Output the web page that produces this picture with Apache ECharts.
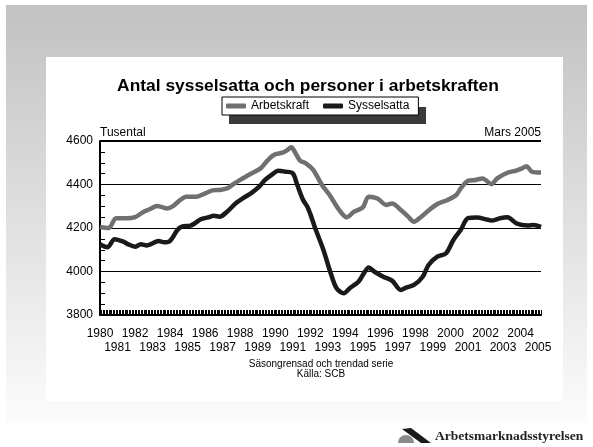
<!DOCTYPE html>
<html lang="sv">
<head>
    <meta charset="UTF-8">
    <title>Antal sysselsatta och personer i arbetskraften</title>
    <style>
        html, body { margin: 0; padding: 0; background: #fff; }
        #main { width: 593px; height: 447px; }
    </style>
    <script src="https://cdn.jsdelivr.net/npm/echarts@6/dist/echarts.min.js"></script>
</head>
<body>
<div id="main"></div>
<script>
    // avlästa punkter (månad, tusental)
    const arbMan = ['1980-01', '1980-07', '1980-12', '1981-07', '1982-01', '1982-07', '1982-11', '1983-04',
        '1983-07', '1983-11', '1984-03', '1984-08', '1984-12', '1985-07', '1986-01', '1986-06', '1986-11',
        '1987-04', '1987-08', '1988-01', '1988-08', '1989-03', '1989-07', '1989-12', '1990-06', '1990-09',
        '1990-12', '1991-03', '1991-06', '1991-10', '1992-03', '1992-09', '1993-03', '1993-08', '1994-02',
        '1994-07', '1995-01', '1995-05', '1995-11', '1996-05', '1996-09', '1997-03', '1997-08', '1997-12',
        '1998-05', '1998-09', '1999-04', '1999-11', '2000-05', '2000-08', '2001-01', '2001-06', '2001-11',
        '2002-05', '2002-09', '2003-04', '2003-10', '2004-02', '2004-05', '2004-09', '2005-03'];
    const arbVal = [4205, 4200, 4245, 4245, 4250, 4275, 4286, 4301,
        4297, 4290, 4301, 4329, 4344, 4344, 4359, 4373, 4375,
        4382, 4400, 4421, 4448, 4474, 4505, 4536, 4546, 4557,
        4571, 4543, 4510, 4497, 4467, 4398, 4344, 4290, 4249,
        4275, 4295, 4344, 4336, 4306, 4313, 4283, 4252, 4229,
        4252, 4275, 4310, 4329, 4352, 4382, 4417, 4421, 4428,
        4402, 4428, 4454, 4464, 4474, 4484, 4458, 4455];

    const sysMan = ['1980-01', '1980-06', '1980-11', '1981-05', '1981-08', '1982-01', '1982-05', '1982-09',
        '1982-12', '1983-05', '1983-09', '1984-01', '1984-06', '1984-09', '1985-03', '1985-06', '1985-10',
        '1986-03', '1986-07', '1986-11', '1987-04', '1987-10', '1988-03', '1988-09', '1989-02', '1989-06',
        '1989-11', '1990-03', '1990-08', '1991-01', '1991-04', '1991-08', '1991-11', '1992-01', '1992-04',
        '1992-10', '1993-03', '1993-07', '1993-12', '1994-04', '1994-10', '1995-02', '1995-05', '1995-09',
        '1996-03', '1996-09', '1997-03', '1997-07', '1997-12', '1998-06', '1998-10', '1999-04', '1999-10',
        '2000-03', '2000-08', '2001-01', '2001-07', '2002-02', '2002-05', '2002-11', '2003-04', '2003-10',
        '2004-02', '2004-06', '2004-10', '2005-03'];
    const sysVal = [4125, 4111, 4148, 4137, 4126, 4114, 4125, 4120,
        4126, 4140, 4134, 4141, 4191, 4206, 4211, 4222, 4240,
        4249, 4256, 4252, 4275, 4314, 4337, 4363, 4390, 4421,
        4447, 4463, 4459, 4452, 4400, 4330, 4298, 4265, 4206,
        4099, 3992, 3923, 3900, 3923, 3953, 3995, 4018, 3999,
        3976, 3958, 3915, 3927, 3938, 3976, 4030, 4068, 4084,
        4145, 4191, 4245, 4248, 4239, 4234, 4245, 4249, 4222,
        4214, 4212, 4214, 4205];

    const yTicks = [3800, 4000, 4200, 4400, 4600];

    // alla månader jan 1980 - mars 2005 som kategorier
    const manader = [];
    for (let y = 1980; y <= 2005; y++) {
        for (let m = 1; m <= 12; m++) {
            if (y === 2005 && m > 3) break;
            manader.push(y + '-' + (m < 10 ? '0' + m : m));
        }
    }

    const chart = echarts.init(document.getElementById('main'));
    const font = 'Liberation Sans, Arial, sans-serif';
    const arLabel = (v) => v.slice(0, 4);

    chart.setOption({
        animation: false,
        textStyle: {fontFamily: font},
        title: {
            text: 'Antal sysselsatta och personer i arbetskraften',
            left: 303, top: 73, textAlign: 'center',
            textStyle: {fontSize: 17.4, fontWeight: 'bold', color: '#000', fontFamily: font}
        },
        legend: {
            left: 222, top: 97,
            padding: [3, 9, 3, 4],
            itemGap: 14,
            itemWidth: 20, itemHeight: 5,
            icon: 'roundRect',
            borderColor: '#000', borderWidth: 1,
            backgroundColor: '#fff',
            textStyle: {fontSize: 12, color: '#000', fontFamily: font},
            data: ['Arbetskraft', 'Sysselsatta']
        },
        grid: {left: 100, right: 52, top: 141, bottom: 132},
        xAxis: [
            {
                // jämna år + månadsstreck
                type: 'category',
                data: manader,
                boundaryGap: false,
                axisLine: {lineStyle: {color: '#000', width: 2}},
                axisTick: {inside: true, interval: 0, length: 5, lineStyle: {color: '#000', width: 1}},
                axisLabel: {
                    interval: (i) => i % 24 === 0,
                    showMinLabel: true, showMaxLabel: true,
                    margin: 13,
                    fontSize: 12, color: '#000', fontFamily: font,
                    formatter: arLabel
                },
                splitLine: {show: false}
            },
            {
                // udda år, andra raden
                type: 'category',
                data: manader,
                position: 'bottom',
                boundaryGap: false,
                axisLine: {show: false},
                axisTick: {show: false},
                axisLabel: {
                    interval: (i) => i % 24 === 12,
                    showMinLabel: true, showMaxLabel: true,
                    margin: 27,
                    fontSize: 12, color: '#000', fontFamily: font,
                    formatter: arLabel
                },
                splitLine: {show: false}
            }
        ],
        yAxis: {
            type: 'value',
            min: yTicks[0], max: yTicks[yTicks.length - 1], interval: 200,
            axisLine: {show: true, lineStyle: {color: '#000', width: 2}},
            axisTick: {show: true, inside: true, length: 5, lineStyle: {color: '#000'}},
            minorTick: {show: true, splitNumber: 4, length: 5, lineStyle: {color: '#000'}},
            axisLabel: {margin: 7, fontSize: 12, color: '#000', fontFamily: font, formatter: (v) => String(v)},
            splitLine: {show: true, lineStyle: {color: '#000', width: 1}}
        },
        graphic: [
            {
                type: 'rect', z: -10, silent: true,
                shape: {x: 6, y: 5, width: 581, height: 418},
                style: {
                    fill: new echarts.graphic.LinearGradient(0, 0, 0, 1, [
                        {offset: 0, color: '#c2c2c2'},
                        {offset: 1, color: '#fcfcfc'}
                    ])
                }
            },
            {
                type: 'rect', z: -9, silent: true,
                shape: {x: 46, y: 57, width: 517, height: 344},
                style: {fill: '#fff'}
            },
            {
                type: 'rect', z: -1, silent: true,
                shape: {x: 229, y: 107, width: 197, height: 17},
                style: {fill: '#3a3a3a'}
            },
            {
                type: 'line', z: 5, silent: true,
                shape: {x1: 100, y1: 141, x2: 541, y2: 141},
                style: {stroke: '#000', lineWidth: 2}
            },
            {
                type: 'text', x: 100, y: 127,
                style: {text: 'Tusental', font: '12px ' + font, fill: '#000'}
            },
            {
                type: 'text', x: 541, y: 127,
                style: {text: 'Mars 2005', font: '12px ' + font, fill: '#000', align: 'right'}
            },
            {
                type: 'text', x: 321, y: 359,
                style: {
                    text: 'Säsongrensad och trendad serie\nKälla: SCB',
                    font: '10px ' + font, fill: '#000', align: 'center', lineHeight: 10
                }
            },
            // logga
            {
                type: 'sector', silent: true,
                shape: {cx: 406, cy: 443, r0: 0, r: 8, startAngle: Math.PI, endAngle: 2 * Math.PI},
                style: {fill: '#8a8a8a'}
            },
            {
                type: 'polygon', silent: true,
                shape: {points: [[402, 429], [411, 428], [431, 443], [421, 443]]},
                style: {fill: '#1a1a1a'}
            },
            {
                type: 'text', x: 435, y: 430,
                style: {
                    text: 'Arbetsmarknadsstyrelsen',
                    font: 'bold 13.5px Liberation Serif, Times New Roman, serif', fill: '#222'
                }
            }
        ],
        series: [
            {
                name: 'Arbetskraft',
                type: 'line',
                showSymbol: false,
                smooth: 0.3,
                color: '#707070',
                lineStyle: {color: '#707070', width: 4.5},
                data: arbMan.map((m, i) => [m, arbVal[i]])
            },
            {
                name: 'Sysselsatta',
                type: 'line',
                showSymbol: false,
                smooth: 0.3,
                color: '#1a1a1a',
                lineStyle: {color: '#1a1a1a', width: 4.5},
                data: sysMan.map((m, i) => [m, sysVal[i]])
            }
        ]
    });
</script>
</body>
</html>
